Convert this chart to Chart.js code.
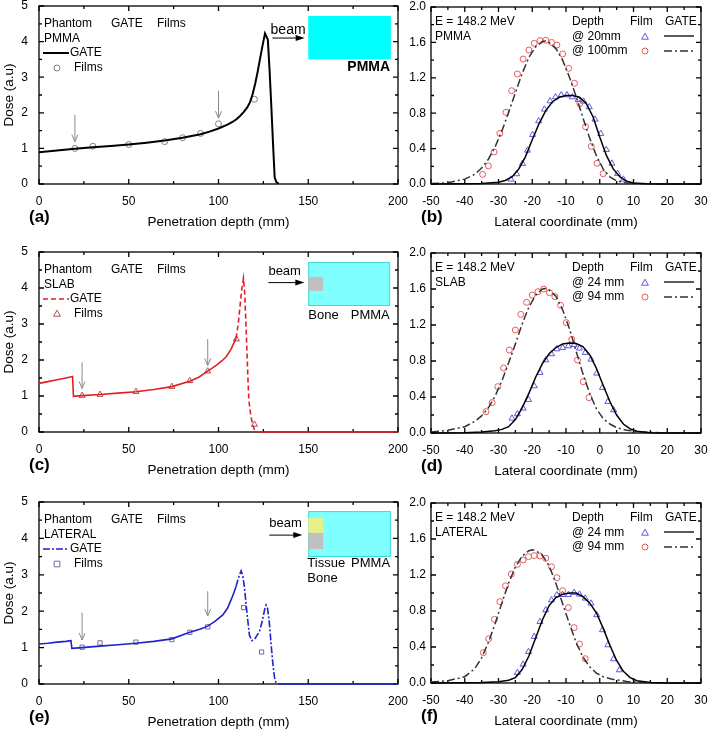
<!DOCTYPE html>
<html><head><meta charset="utf-8">
<script src="https://cdn.jsdelivr.net/npm/chart.js@4.4.1/dist/chart.umd.min.js"></script>
<style>
html,body{margin:0;padding:0;background:#fff;}
body{width:709px;height:732px;position:relative;overflow:hidden;}
canvas{position:absolute;display:block;}
</style></head><body>
<canvas id="pa" width="420" height="236" style="left:0;top:0;width:420px;height:236px"></canvas>
<canvas id="pc" width="420" height="240" style="left:0;top:240px;width:420px;height:240px"></canvas>
<canvas id="pe" width="420" height="242" style="left:0;top:490px;width:420px;height:242px"></canvas>
<canvas id="pb" width="314" height="236" style="left:395px;top:0;width:314px;height:236px"></canvas>
<canvas id="pd" width="314" height="240" style="left:395px;top:240px;width:314px;height:240px"></canvas>
<canvas id="pf" width="314" height="242" style="left:395px;top:490px;width:314px;height:242px"></canvas>
<script>
// ---------------- tick labels ----------------
const depthTicks = [0, 50, 100, 150, 200];
const doseTicks = [0, 1, 2, 3, 4, 5];
const latTicks = [-50, -40, -30, -20, -10, 0, 10, 20, 30];
const latDoseTicks = [0, 0.4, 0.8, 1.2, 1.6, 2.0];

// ---------------- (a) PMMA depth dose ----------------
const gatePMMA = [[0,0.89],[10,0.94],[20,0.99],[30,1.03],[40,1.07],[50,1.11],[60,1.16],[70,1.22],[80,1.30],[90,1.40],[95,1.47],[100,1.56],[105,1.67],[108,1.75],[110,1.82],[112,1.91],[114,2.02],[116,2.15],[117.5,2.29],[119,2.52],[120.5,2.83],[121.8,3.15],[123,3.48],[124.5,3.88],[125.9,4.23],[127.5,4.05],[128.5,3.15],[129.5,2.1],[130.5,1.0],[131.3,0.18],[132.3,0.05],[133.5,0.01]];
const filmPMMA = [[20,1.0],[30,1.06],[50,1.11],[70,1.19],[80,1.30],[90,1.42],[100,1.69],[120,2.38]];

// ---------------- (c) SLAB depth dose ----------------
const gateSLAB = [[0,1.35],[5,1.40],[10,1.45],[15,1.50],[18.7,1.54],[19.2,0.99],[24,1.01],[34,1.04],[44,1.08],[54,1.12],[64,1.18],[74,1.26],[84,1.41],[89,1.52],[94,1.69],[98.7,1.85],[102,1.98],[104.3,2.09],[107,2.3],[109.8,2.6],[111,3.0],[111.7,3.35],[112.8,3.9],[113.9,4.27],[114.6,3.85],[115.3,3.0],[116.3,1.6],[116.9,0.9],[118,0.45],[119.1,0.19],[120,0.07],[121,0.02],[123,0],[200,0]];
const filmSLAB = [[24,1.01],[34,1.04],[54,1.12],[74,1.26],[84,1.42],[94,1.69],[110,2.58],[120,0.21]];

// ---------------- (e) LATERAL depth dose ----------------
const gateLAT = [[0,1.10],[5,1.12],[10,1.15],[15,1.17],[17.8,1.19],[18.3,0.98],[24,1.0],[34,1.04],[44,1.08],[54,1.12],[64,1.17],[74,1.24],[84,1.42],[90,1.51],[94,1.59],[98,1.72],[102.4,1.90],[105,2.08],[107,2.31],[108.5,2.5],[109.8,2.68],[111,2.9],[112.6,3.11],[113.5,2.98],[114.4,2.68],[115.7,2.03],[117.2,1.35],[118.5,1.19],[120,1.22],[122.8,1.44],[124.5,1.75],[125.7,2.05],[126.5,2.17],[127.3,2.08],[128.3,1.7],[129.3,1.1],[130.3,0.55],[131.2,0.18],[132,0.04],[133,0.01],[135,0],[200,0]];
const filmLAT = [[24,1.01],[34,1.13],[54,1.15],[74,1.22],[84,1.42],[94,1.57],[114,2.10],[124,0.88]];

// ---------------- (b) PMMA lateral profiles ----------------
const gateB20 = [[-50,0],[-40,0.002],[-35,0.006],[-30,0.02],[-28,0.04],[-26,0.08],[-24,0.17],[-22,0.31],[-20,0.50],[-18,0.68],[-16,0.83],[-14,0.93],[-12,0.98],[-10,1.0],[-8,1.0],[-6,0.98],[-4,0.91],[-2,0.76],[0,0.53],[2,0.32],[4,0.17],[6,0.08],[8,0.03],[10,0.012],[14,0.003],[20,0],[30,0]];
const gateB100 = [[-50,0.005],[-45,0.015],[-40,0.055],[-37,0.11],[-35,0.18],[-33,0.28],[-31,0.42],[-29,0.60],[-27,0.81],[-25,1.03],[-23,1.25],[-21,1.43],[-19,1.55],[-17,1.61],[-16,1.615],[-15,1.60],[-13,1.53],[-11,1.40],[-9,1.21],[-7,0.99],[-5,0.75],[-3,0.52],[-1,0.32],[1,0.17],[3,0.08],[5,0.035],[8,0.01],[12,0.002],[20,0],[30,0]];
const filmB20 = [[-26.3,0.053],[-24.6,0.113],[-22.9,0.23],[-21.4,0.38],[-19.9,0.557],[-18.1,0.712],[-16.4,0.844],[-14.7,0.938],[-13.1,0.983],[-11.4,1.006],[-9.7,1.006],[-8.1,0.983],[-6.4,0.953],[-4.8,0.934],[-3.1,0.87],[-1.4,0.73],[0.3,0.569],[1.95,0.388],[3.6,0.233],[5.3,0.117],[7.0,0.053]];
const filmB100 = [[-34.7,0.109],[-33.0,0.204],[-31.3,0.362],[-29.6,0.572],[-27.8,0.81],[-26.1,1.054],[-24.4,1.243],[-22.7,1.412],[-21.0,1.514],[-19.4,1.59],[-17.7,1.62],[-16.0,1.624],[-14.3,1.60],[-12.7,1.57],[-11.0,1.469],[-9.2,1.307],[-7.5,1.138],[-5.9,0.908],[-4.2,0.648],[-2.5,0.426],[-0.8,0.234],[1.0,0.117]];

// ---------------- (d) SLAB lateral profiles ----------------
const gateD24 = [[-50,0],[-40,0.003],[-35,0.01],[-31,0.025],[-29,0.04],[-27,0.07],[-25,0.15],[-23,0.28],[-21,0.44],[-19,0.62],[-17,0.77],[-15,0.88],[-13,0.95],[-11,0.99],[-9,1.0],[-7,0.995],[-5,0.96],[-3,0.87],[-1,0.72],[1,0.53],[3,0.35],[5,0.20],[7,0.10],[9,0.045],[11,0.02],[15,0.004],[20,0],[30,0]];
const gateD94 = [[-50,0.01],[-45,0.03],[-40,0.07],[-37,0.13],[-35,0.19],[-33,0.28],[-31,0.41],[-29,0.58],[-27,0.78],[-25,0.99],[-23,1.21],[-21,1.40],[-19,1.53],[-17,1.60],[-16,1.605],[-15,1.59],[-13,1.52],[-11,1.37],[-9,1.16],[-7,0.91],[-5,0.66],[-3,0.44],[-1,0.27],[1,0.16],[3,0.10],[5,0.06],[8,0.03],[12,0.012],[18,0.003],[25,0],[30,0]];
const filmD24 = [[-26.0,0.163],[-24.4,0.211],[-22.7,0.274],[-21.1,0.37],[-19.4,0.522],[-17.7,0.67],[-16.0,0.811],[-14.3,0.878],[-12.7,0.933],[-11.0,0.948],[-9.3,0.966],[-7.6,0.981],[-6.0,0.941],[-4.3,0.893],[-2.6,0.818],[-0.9,0.663],[0.8,0.504],[2.4,0.348],[4.1,0.255]];
const filmD94 = [[-33.7,0.237],[-31.9,0.337],[-30.2,0.515],[-28.5,0.722],[-26.8,0.922],[-25.0,1.144],[-23.4,1.318],[-21.7,1.452],[-20.0,1.533],[-18.3,1.57],[-16.6,1.599],[-14.9,1.559],[-13.3,1.515],[-11.6,1.418],[-9.9,1.226],[-8.3,1.041],[-6.6,0.811],[-4.9,0.57],[-3.2,0.393]];

// ---------------- (f) LATERAL lateral profiles ----------------
const gateF24 = [[-50,0],[-40,0.002],[-35,0.006],[-30,0.015],[-27,0.03],[-25,0.06],[-23,0.15],[-21,0.30],[-19,0.50],[-17,0.70],[-15,0.86],[-13,0.95],[-11,0.985],[-9,1.0],[-7,1.0],[-5,0.96],[-3,0.89],[-1,0.78],[1,0.61],[3,0.42],[5,0.25],[7,0.13],[9,0.06],[11,0.025],[15,0.005],[20,0.001],[30,0]];
const gateF94 = [[-50,0.01],[-45,0.025],[-40,0.07],[-37,0.16],[-35,0.28],[-33,0.45],[-31,0.66],[-29,0.89],[-27,1.11],[-25,1.29],[-23,1.41],[-21,1.47],[-20,1.48],[-19,1.47],[-17,1.42],[-15,1.30],[-13,1.11],[-11,0.88],[-9,0.66],[-7,0.45],[-5,0.29],[-3,0.18],[-1,0.11],[1,0.07],[4,0.04],[8,0.018],[12,0.007],[20,0.001],[30,0]];
const filmF24 = [[-24.4,0.115],[-22.7,0.207],[-21.1,0.348],[-19.4,0.515],[-17.7,0.681],[-16.0,0.811],[-14.3,0.922],[-12.7,0.978],[-11.0,0.981],[-9.3,0.981],[-7.6,1.004],[-6.0,0.985],[-4.3,0.941],[-2.6,0.885],[-0.9,0.756],[0.8,0.589],[2.4,0.422],[4.1,0.267],[5.8,0.144]];
const filmF94 = [[-34.5,0.337],[-32.9,0.492],[-31.2,0.707],[-29.6,0.904],[-27.9,1.079],[-26.2,1.211],[-24.4,1.318],[-22.7,1.367],[-21.1,1.404],[-19.4,1.415],[-17.7,1.411],[-16.0,1.385],[-14.3,1.292],[-12.7,1.17],[-11.0,1.026],[-9.3,0.837],[-7.6,0.615],[-6.0,0.433],[-4.3,0.27]];

// ---------------- depth markers (film depths) ----------------
const arrowsA = [[20, 1.94, 1.19], [100, 2.62, 1.85]];
const arrowsC = [[24, 1.93, 1.21], [94, 2.58, 1.85]];
const arrowsE = [[24, 1.96, 1.21], [94, 2.55, 1.87]];

// =====================================================================
const FONT = '"Liberation Sans", Arial, Helvetica, sans-serif';
const pts = a => a.map(p => ({x: p[0], y: p[1]}));

const DECO = {
  pa: {kind:'depth', tag:'(a)', name:'PMMA', xMinor:[25,75,125,175], yMinor:[0.5,1.5,2.5,3.5,4.5],
       line:{color:'#000', width:2, dash:[]}, mk:{style:'circle', color:'#808080'}, arrows: arrowsA,
       rects:[{x0:150,x1:196,y0:3.5,y1:4.72,fill:'#00ffff'}],
       texts:[{t:'beam',x:129,y:4.33,size:14,align:'left'},{t:'PMMA',x:195.6,y:3.27,size:14,bold:true,align:'right'}],
       beam:{x0:130,x1:148,y:4.10}},
  pc: {kind:'depth', tag:'(c)', name:'SLAB', xMinor:[25,75,125,175], yMinor:[0.5,1.5,2.5,3.5,4.5],
       line:{color:'#e41e26', width:1.5, dash:[5,3]}, mk:{style:'triangle', color:'#b05050'}, arrows: arrowsC,
       rects:[{x0:150,x1:195.6,y0:3.5,y1:4.72,fill:'#80ffff',stroke:'#40d8d8'},{x0:150,x1:158.3,y0:3.92,y1:4.31,fill:'#c0c0c0'}],
       texts:[{t:'beam',x:127.8,y:4.45,size:13,align:'left'},{t:'Bone',x:150,y:3.25,size:13,align:'left'},{t:'PMMA',x:195.4,y:3.25,size:13,align:'right'}],
       beam:{x0:127.8,x1:147.8,y:4.15}},
  pe: {kind:'depth', tag:'(e)', name:'LATERAL', xMinor:[25,75,125,175], yMinor:[0.5,1.5,2.5,3.5,4.5],
       line:{color:'#2323cc', width:1.5, dash:[7,2,2,2]}, mk:{style:'rect', color:'#6e6ea0'}, arrows: arrowsE,
       rects:[{x0:150,x1:196,y0:3.49,y1:4.75,fill:'#80ffff',stroke:'#40d8d8'},{x0:150,x1:158.3,y0:4.15,y1:4.56,fill:'#e8ef88'},{x0:150,x1:158.3,y0:3.71,y1:4.15,fill:'#c0c0c0'}],
       texts:[{t:'beam',x:128.3,y:4.42,size:13,align:'left'},{t:'Tissue',x:149.5,y:3.30,size:13,align:'left'},{t:'Bone',x:149.5,y:2.91,size:13,align:'left'},{t:'PMMA',x:195.6,y:3.30,size:13,align:'right'}],
       beam:{x0:128.3,x1:146.7,y:4.09}},
  pb: {kind:'lat', tag:'(b)', name:'PMMA', rows:['@ 20mm','@ 100mm'], xMinor:[-45,-35,-25,-15,-5,5,15,25], yMinor:[0.2,0.6,1.0,1.4,1.8]},
  pd: {kind:'lat', tag:'(d)', name:'SLAB', rows:['@ 24 mm','@ 94 mm'], xMinor:[-45,-35,-25,-15,-5,5,15,25], yMinor:[0.2,0.6,1.0,1.4,1.8]},
  pf: {kind:'lat', tag:'(f)', name:'LATERAL', rows:['@ 24 mm','@ 94 mm'], xMinor:[-45,-35,-25,-15,-5,5,15,25], yMinor:[0.2,0.6,1.0,1.4,1.8]}
};

function txt(ctx, s, x, y, size, align, bold, color) {
  ctx.save();
  ctx.font = (bold ? 'bold ' : '') + size + 'px ' + FONT;
  ctx.fillStyle = color || '#000';
  ctx.textAlign = align || 'left';
  ctx.textBaseline = 'middle';
  ctx.fillText(s, x, y);
  ctx.restore();
}
function marker(ctx, style, x, y, color) {
  ctx.save();
  ctx.strokeStyle = color; ctx.lineWidth = 1;
  ctx.beginPath();
  if (style === 'circle') ctx.arc(x, y, 3, 0, Math.PI * 2);
  else if (style === 'triangle') { ctx.moveTo(x, y - 3.8); ctx.lineTo(x + 3.4, y + 2.2); ctx.lineTo(x - 3.4, y + 2.2); ctx.closePath(); }
  else ctx.rect(x - 2.8, y - 2.8, 5.6, 5.6);
  ctx.stroke();
  ctx.restore();
}

const decoPlugin = {
  id: 'deco',
  beforeDatasetsDraw(chart) {
    const d = DECO[chart.canvas.id];
    const {ctx, chartArea: a, scales: {x, y}} = chart;
    (d.rects || []).forEach(r => {
      const X0 = x.getPixelForValue(r.x0), X1 = x.getPixelForValue(r.x1);
      const Y0 = y.getPixelForValue(r.y1), Y1 = y.getPixelForValue(r.y0);
      ctx.save(); ctx.fillStyle = r.fill; ctx.fillRect(X0, Y0, X1 - X0, Y1 - Y0);
      if (r.stroke) { ctx.strokeStyle = r.stroke; ctx.lineWidth = 1; ctx.strokeRect(X0 + 0.5, Y0 + 0.5, X1 - X0 - 1, Y1 - Y0 - 1); }
      ctx.restore();
    });
    ctx.save();
    ctx.strokeStyle = '#000'; ctx.lineWidth = 1.3;
    ctx.strokeRect(a.left, a.top, a.right - a.left, a.bottom - a.top);
    ctx.beginPath();
    const xt = (v, L) => { const p = x.getPixelForValue(v); ctx.moveTo(p, a.bottom); ctx.lineTo(p, a.bottom - L); ctx.moveTo(p, a.top); ctx.lineTo(p, a.top + L); };
    const yt = (v, L) => { const p = y.getPixelForValue(v); ctx.moveTo(a.left, p); ctx.lineTo(a.left + L, p); ctx.moveTo(a.right, p); ctx.lineTo(a.right - L, p); };
    x.ticks.forEach(t => xt(t.value, 5)); d.xMinor.forEach(v => xt(v, 3));
    y.ticks.forEach(t => yt(t.value, 5)); d.yMinor.forEach(v => yt(v, 3));
    ctx.stroke();
    ctx.restore();
  },
  afterDatasetsDraw(chart) {
    const d = DECO[chart.canvas.id];
    const {ctx, chartArea: a, scales: {x, y}} = chart;
    txt(ctx, d.tag, a.left - 10, a.bottom + 33, 17, 'left', true);
    if (d.kind === 'depth') {
      d.texts.forEach(t => txt(ctx, t.t, x.getPixelForValue(t.x), y.getPixelForValue(t.y), t.size, t.align, t.bold));
      const bx0 = x.getPixelForValue(d.beam.x0), bx1 = x.getPixelForValue(d.beam.x1), by = y.getPixelForValue(d.beam.y);
      ctx.save(); ctx.strokeStyle = '#000'; ctx.fillStyle = '#000'; ctx.lineWidth = 1;
      ctx.beginPath(); ctx.moveTo(bx0, by); ctx.lineTo(bx1 - 6, by); ctx.stroke();
      ctx.beginPath(); ctx.moveTo(bx1, by); ctx.lineTo(bx1 - 9, by - 3); ctx.lineTo(bx1 - 9, by + 3); ctx.closePath(); ctx.fill();
      ctx.restore();
      ctx.save(); ctx.strokeStyle = '#8a8a8a'; ctx.lineWidth = 1;
      d.arrows.forEach(ar => {
        const px = x.getPixelForValue(ar[0]), p0 = y.getPixelForValue(ar[1]), p1 = y.getPixelForValue(ar[2]);
        ctx.beginPath(); ctx.moveTo(px, p0); ctx.lineTo(px, p1);
        ctx.moveTo(px - 3, p1 - 7); ctx.lineTo(px, p1); ctx.lineTo(px + 3, p1 - 7); ctx.stroke();
      });
      ctx.restore();
      const L = a.left, T = a.top;
      txt(ctx, 'Phantom', L + 5, T + 18, 12); txt(ctx, 'GATE', L + 72, T + 18, 12); txt(ctx, 'Films', L + 118, T + 18, 12);
      txt(ctx, d.name, L + 5, T + 33, 12);
      ctx.save(); ctx.strokeStyle = d.line.color; ctx.lineWidth = d.line.width; ctx.setLineDash(d.line.dash);
      ctx.beginPath(); ctx.moveTo(L + 4, T + 47); ctx.lineTo(L + 30, T + 47); ctx.stroke(); ctx.restore();
      txt(ctx, 'GATE', L + 31, T + 47, 12);
      marker(ctx, d.mk.style, L + 18, T + 62, d.mk.color);
      txt(ctx, 'Films', L + 35, T + 62, 12);
    } else {
      const L = a.left, T = a.top;
      txt(ctx, 'E = 148.2 MeV', L + 4, T + 15, 12); txt(ctx, d.name, L + 4, T + 30, 12);
      txt(ctx, 'Depth', L + 141, T + 15, 12); txt(ctx, 'Film', L + 199, T + 15, 12); txt(ctx, 'GATE', L + 234, T + 15, 12);
      txt(ctx, d.rows[0], L + 141, T + 30, 12); txt(ctx, d.rows[1], L + 141, T + 44, 12);
      marker(ctx, 'triangle', L + 214, T + 30, '#5a5ae0');
      marker(ctx, 'circle', L + 214, T + 44, '#e85a5a');
      ctx.save(); ctx.strokeStyle = '#000'; ctx.lineWidth = 1.3;
      ctx.beginPath(); ctx.moveTo(L + 233, T + 29); ctx.lineTo(L + 263, T + 29); ctx.stroke();
      ctx.strokeStyle = '#333'; ctx.setLineDash([8, 3, 2, 3]);
      ctx.beginPath(); ctx.moveTo(L + 233, T + 44); ctx.lineTo(L + 263, T + 44); ctx.stroke();
      ctx.restore();
    }
  }
};

function axis(d, horiz) {
  return {
    type: 'linear', position: horiz ? 'bottom' : 'left', min: d.min, max: d.max,
    afterBuildTicks: s => { s.ticks = d.ticks.map(v => ({value: v})); },
    grid: {display: false, drawTicks: false},
    border: {display: false},
    ticks: {color: '#000', font: {family: FONT, size: 12}, padding: d.pad, autoSkip: false, maxRotation: 0,
            callback: v => d.dec ? Number(v).toFixed(d.dec) : String(v)},
    title: d.title ? {display: true, text: d.title, color: '#000', font: {family: FONT, size: 13.5},
                      padding: {top: horiz ? 0 : 1, bottom: 0}} : {display: false},
    afterFit: s => {
      if (horiz) s.height = d.size; else s.width = d.size;
      s.paddingLeft = 0; s.paddingRight = 0; s.paddingTop = 0; s.paddingBottom = 0;
    }
  };
}

function panel(id, datasets, xdef, ydef, pad) {
  return new Chart(document.getElementById(id), {
    type: 'scatter',
    data: {datasets},
    options: {
      responsive: false, animation: false, events: [],
      layout: {padding: pad},
      plugins: {legend: {display: false}, tooltip: {enabled: false}},
      scales: {x: axis(xdef, true), y: axis(ydef, false)}
    },
    plugins: [decoPlugin]
  });
}

function lineDs(data, color, width, dash, seg) {
  const ds = {data: pts(data), showLine: true, borderColor: color, borderWidth: width, borderDash: dash,
              pointRadius: 0, fill: false, tension: 0, clip: 4};
  if (seg) ds.segment = {borderDash: seg};
  return ds;
}
function filmDs(data, style, color, r) {
  return {data: pts(data), showLine: false, pointStyle: style, pointRadius: r, borderColor: color,
          backgroundColor: 'rgba(0,0,0,0)', pointBorderWidth: 1, clip: 6};
}

const xDepth = {min: 0, max: 200, ticks: depthTicks, pad: 10, size: 46, title: 'Penetration depth (mm)'};
const yDose = {min: 0, max: 5, ticks: doseTicks, pad: 11, size: 39, title: 'Dose (a.u)'};
const xLat = {min: -50, max: 30, ticks: latTicks, pad: 10, size: 46, title: 'Lateral coordinate (mm)'};
const yLat = {min: 0, max: 2, ticks: latDoseTicks, pad: 5, size: 36, dec: 1};

panel('pa', [lineDs(gatePMMA, '#000', 2, []), filmDs(filmPMMA, 'circle', '#808080', 3)],
      xDepth, yDose, {left: 0, right: 22, top: 6, bottom: 6});
panel('pc', [lineDs(gateSLAB, '#e41e26', 1.6, [], c => (c.p0.parsed.x >= 109 && c.p1.parsed.x <= 123) ? [5, 3] : undefined),
             filmDs(filmSLAB, 'triangle', '#b05050', 3.5)],
      xDepth, yDose, {left: 0, right: 22, top: 12, bottom: 2});
panel('pe', [lineDs(gateLAT, '#2323cc', 1.6, [], c => (c.p0.parsed.x >= 109 && c.p1.parsed.x <= 135) ? [7, 2, 2, 2] : undefined),
             filmDs(filmLAT, 'rect', '#6e6ea0', 3)],
      xDepth, yDose, {left: 0, right: 22, top: 12, bottom: 2});

panel('pb', [lineDs(gateB20, '#000', 1.5, []), lineDs(gateB100, '#333', 1.5, [8, 3, 2, 3]),
             filmDs(filmB20, 'triangle', '#5a5ae0', 3.5), filmDs(filmB100, 'circle', '#e85a5a', 3)],
      xLat, yLat, {left: 0, right: 8, top: 7, bottom: 6});
panel('pd', [lineDs(gateD24, '#000', 1.5, []), lineDs(gateD94, '#333', 1.5, [8, 3, 2, 3]),
             filmDs(filmD24, 'triangle', '#5a5ae0', 3.5), filmDs(filmD94, 'circle', '#e85a5a', 3)],
      xLat, yLat, {left: 0, right: 8, top: 13, bottom: 1});
panel('pf', [lineDs(gateF24, '#000', 1.5, []), lineDs(gateF94, '#333', 1.5, [8, 3, 2, 3]),
             filmDs(filmF24, 'triangle', '#5a5ae0', 3.5), filmDs(filmF94, 'circle', '#e85a5a', 3)],
      xLat, yLat, {left: 0, right: 8, top: 13, bottom: 3});
</script>
</body></html>
